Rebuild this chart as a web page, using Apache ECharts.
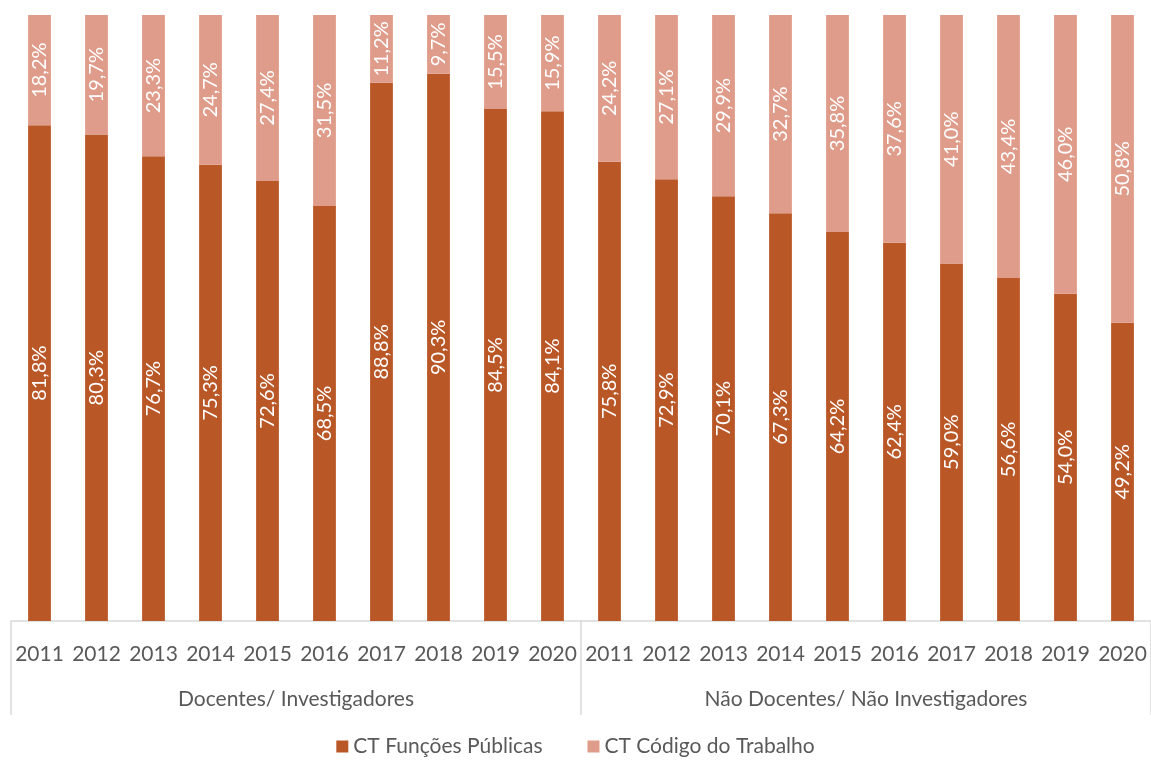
<!DOCTYPE html>
<html>
<head>
<meta charset="utf-8">
<script src="https://cdn.jsdelivr.net/npm/echarts@6/dist/echarts.min.js"></script>
<style>
  html, body { margin: 0; padding: 0; background: #fff; }
  #main { width: 1151px; height: 763px; }
</style>
</head>
<body>
<div id="main"></div>
<script>
// years repeat for both groups
let years = ['2011','2012','2013','2014','2015','2016','2017','2018','2019','2020',
             '2011','2012','2013','2014','2015','2016','2017','2018','2019','2020'];
let groups = ['Docentes/ Investigadores', 'Não Docentes/ Não Investigadores'];
let funcoesPublicas = [81.8, 80.3, 76.7, 75.3, 72.6, 68.5, 88.8, 90.3, 84.5, 84.1,
                       75.8, 72.9, 70.1, 67.3, 64.2, 62.4, 59.0, 56.6, 54.0, 49.2];
let codigoTrabalho = [18.2, 19.7, 23.3, 24.7, 27.4, 31.5, 11.2, 9.7, 15.5, 15.9,
                      24.2, 27.1, 29.9, 32.7, 35.8, 37.6, 41.0, 43.4, 46.0, 50.8];

let font = 'Lato, "Open Sans", sans-serif';
let txt = '#595959';

let pct = function(p){ return p.value.toFixed(1).replace('.', ',') + '%'; };

let myChart = echarts.init(document.getElementById('main'));
let option = {
    animation: false,
    textStyle: { fontFamily: font },
    grid: { left: 11, right: 0, top: 15, bottom: 142 },
    legend: {
        bottom: 1,
        itemWidth: 12, itemHeight: 12, itemGap: 45,
        icon: 'rect',
        textStyle: { color: txt, fontSize: 21, fontFamily: font },
        data: ['CT Funções Públicas', 'CT Código do Trabalho']
    },
    xAxis: [
        {
            type: 'category',
            data: years,
            position: 'bottom',
            axisLine: { lineStyle: { color: '#d9d9d9', width: 1.5 } },
            axisTick: { show: false },
            axisLabel: { color: txt, fontSize: 21, margin: 23, interval: 0, fontFamily: font }
        },
        {
            type: 'category',
            data: groups,
            position: 'bottom',
            axisLine: { show: false },
            axisTick: { show: true, length: 94, lineStyle: { color: '#d9d9d9', width: 1.5 } },
            axisLabel: { color: txt, fontSize: 21, margin: 68, interval: 0, fontFamily: font }
        }
    ],
    yAxis: {
        type: 'value', min: 0, max: 100, show: false,
        splitLine: { show: false }
    },
    series: [
        {
            name: 'CT Funções Públicas',
            type: 'bar', stack: 'total', barWidth: '40%',
            data: funcoesPublicas,
            itemStyle: { color: '#BA5727' },
            label: { show: true, position: 'inside', rotate: 90, color: '#fff', fontSize: 20, formatter: pct, fontFamily: font }
        },
        {
            name: 'CT Código do Trabalho',
            type: 'bar', stack: 'total', barWidth: '40%',
            data: codigoTrabalho,
            itemStyle: { color: '#E09C8A' },
            label: { show: true, position: 'inside', rotate: 90, color: '#fff', fontSize: 20, formatter: pct, fontFamily: font }
        }
    ]
};
myChart.setOption(option);
</script>
</body>
</html>
